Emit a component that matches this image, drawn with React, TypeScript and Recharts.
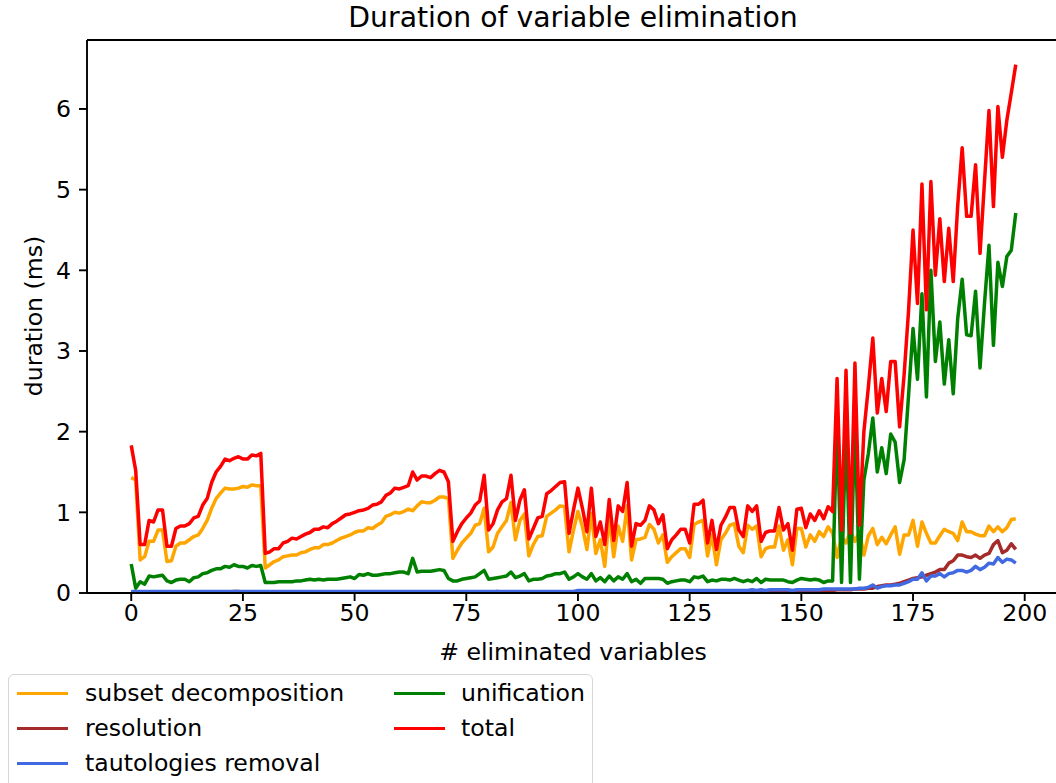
import { LineChart, Line, XAxis, YAxis, ReferenceLine } from "recharts"

// durations in ms, one entry per number of eliminated variables (0..198)
const subsetDecomposition = [
  1.43, 1.40, 0.41, 0.45, 0.64, 0.64, 0.78, 0.78, 0.39, 0.40,
  0.58, 0.62, 0.62, 0.66, 0.70, 0.72, 0.80, 0.90, 1.05, 1.17,
  1.24, 1.30, 1.29, 1.29, 1.30, 1.32, 1.31, 1.34, 1.33, 1.33,
  0.31, 0.35, 0.39, 0.41, 0.45, 0.46, 0.47, 0.47, 0.50, 0.51,
  0.54, 0.56, 0.56, 0.60, 0.60, 0.62, 0.65, 0.68, 0.70, 0.72,
  0.75, 0.77, 0.77, 0.81, 0.80, 0.84, 0.87, 0.95, 0.97, 1.00,
  0.99, 1.01, 1.04, 1.02, 1.08, 1.13, 1.12, 1.12, 1.15, 1.19,
  1.19, 1.17, 0.43, 0.53, 0.62, 0.68, 0.74, 0.84, 0.86, 1.05,
  0.51, 0.57, 0.74, 0.82, 0.90, 1.12, 0.66, 0.90, 0.98, 0.46,
  0.60, 0.70, 0.71, 0.95, 0.99, 1.03, 1.08, 1.07, 0.51, 0.78,
  1.01, 0.82, 0.54, 0.99, 0.49, 0.66, 0.33, 0.95, 0.45, 0.83,
  0.64, 1.08, 0.41, 0.66, 0.67, 0.69, 0.85, 0.79, 0.62, 0.72,
  0.38, 0.45, 0.50, 0.55, 0.55, 0.44, 0.85, 0.88, 0.90, 0.46,
  0.72, 0.35, 0.66, 0.74, 0.84, 0.86, 0.58, 0.50, 0.84, 0.79,
  0.83, 0.45, 0.55, 0.57, 0.57, 0.83, 0.53, 0.66, 0.35, 0.80,
  0.80, 0.57, 0.72, 0.64, 0.76, 0.70, 0.82, 0.74, 0.44, 0.70,
  0.62, 0.77, 0.64, 0.76, 0.47, 0.71, 0.80, 0.60, 0.69, 0.61,
  0.72, 0.82, 0.48, 0.72, 0.72, 0.90, 0.58, 0.88, 0.74, 0.62,
  0.62, 0.71, 0.79, 0.76, 0.74, 0.65, 0.88, 0.76, 0.76, 0.73,
  0.71, 0.71, 0.83, 0.76, 0.82, 0.76, 0.81, 0.91, 0.92,
]

const resolution = [
  0.01, 0.01, 0.01, 0.01, 0.01, 0.01, 0.01, 0.01, 0.01, 0.01,
  0.01, 0.01, 0.01, 0.01, 0.01, 0.01, 0.01, 0.01, 0.01, 0.01,
  0.01, 0.01, 0.01, 0.02, 0.02, 0.01, 0.01, 0.01, 0.01, 0.01,
  0.01, 0.01, 0.01, 0.01, 0.01, 0.01, 0.01, 0.01, 0.01, 0.01,
  0.01, 0.01, 0.01, 0.01, 0.01, 0.01, 0.01, 0.01, 0.01, 0.01,
  0.01, 0.01, 0.01, 0.01, 0.01, 0.01, 0.01, 0.01, 0.01, 0.01,
  0.01, 0.01, 0.01, 0.01, 0.01, 0.01, 0.01, 0.01, 0.01, 0.01,
  0.01, 0.01, 0.01, 0.01, 0.01, 0.01, 0.01, 0.01, 0.01, 0.01,
  0.01, 0.01, 0.02, 0.01, 0.01, 0.01, 0.01, 0.01, 0.01, 0.01,
  0.01, 0.01, 0.01, 0.01, 0.01, 0.01, 0.01, 0.01, 0.01, 0.01,
  0.01, 0.01, 0.01, 0.01, 0.01, 0.01, 0.01, 0.01, 0.01, 0.01,
  0.01, 0.01, 0.01, 0.01, 0.01, 0.01, 0.01, 0.01, 0.01, 0.01,
  0.01, 0.01, 0.01, 0.01, 0.01, 0.01, 0.01, 0.02, 0.01, 0.01,
  0.01, 0.01, 0.01, 0.01, 0.02, 0.02, 0.02, 0.02, 0.02, 0.02,
  0.02, 0.02, 0.02, 0.02, 0.02, 0.02, 0.02, 0.02, 0.02, 0.02,
  0.02, 0.02, 0.02, 0.03, 0.03, 0.03, 0.03, 0.03, 0.04, 0.04,
  0.04, 0.04, 0.05, 0.05, 0.05, 0.06, 0.06, 0.08, 0.09, 0.10,
  0.10, 0.11, 0.12, 0.14, 0.16, 0.18, 0.19, 0.20, 0.22, 0.24,
  0.26, 0.29, 0.29, 0.37, 0.40, 0.47, 0.47, 0.45, 0.44, 0.47,
  0.43, 0.47, 0.49, 0.60, 0.65, 0.50, 0.53, 0.61, 0.54,
]

const tautologiesRemoval = [
  0.02, 0.02, 0.02, 0.02, 0.02, 0.02, 0.02, 0.02, 0.02, 0.02,
  0.02, 0.02, 0.02, 0.02, 0.02, 0.02, 0.02, 0.02, 0.02, 0.02,
  0.02, 0.02, 0.02, 0.02, 0.02, 0.02, 0.02, 0.02, 0.02, 0.02,
  0.02, 0.02, 0.02, 0.02, 0.02, 0.02, 0.02, 0.02, 0.02, 0.02,
  0.02, 0.02, 0.02, 0.02, 0.02, 0.02, 0.02, 0.02, 0.02, 0.02,
  0.02, 0.02, 0.02, 0.02, 0.02, 0.02, 0.02, 0.02, 0.02, 0.02,
  0.02, 0.02, 0.02, 0.02, 0.02, 0.02, 0.02, 0.02, 0.02, 0.02,
  0.02, 0.02, 0.02, 0.02, 0.02, 0.02, 0.02, 0.02, 0.02, 0.02,
  0.02, 0.02, 0.02, 0.02, 0.02, 0.02, 0.02, 0.02, 0.02, 0.02,
  0.02, 0.02, 0.02, 0.02, 0.02, 0.02, 0.02, 0.02, 0.02, 0.02,
  0.03, 0.03, 0.03, 0.03, 0.03, 0.03, 0.03, 0.03, 0.03, 0.03,
  0.03, 0.03, 0.03, 0.03, 0.03, 0.03, 0.03, 0.03, 0.03, 0.03,
  0.03, 0.03, 0.03, 0.03, 0.03, 0.03, 0.03, 0.03, 0.03, 0.03,
  0.03, 0.03, 0.03, 0.03, 0.03, 0.03, 0.03, 0.03, 0.03, 0.04,
  0.03, 0.04, 0.03, 0.04, 0.04, 0.04, 0.04, 0.04, 0.03, 0.04,
  0.04, 0.04, 0.04, 0.04, 0.04, 0.05, 0.05, 0.05, 0.05, 0.05,
  0.05, 0.05, 0.05, 0.06, 0.06, 0.07, 0.10, 0.06, 0.08, 0.09,
  0.09, 0.10, 0.10, 0.12, 0.14, 0.17, 0.17, 0.25, 0.15, 0.21,
  0.21, 0.24, 0.20, 0.24, 0.25, 0.28, 0.28, 0.26, 0.28, 0.33,
  0.29, 0.32, 0.37, 0.36, 0.44, 0.38, 0.42, 0.41, 0.37,
]

const unification = [
  0.36, 0.06, 0.14, 0.11, 0.21, 0.20, 0.21, 0.22, 0.15, 0.13,
  0.16, 0.17, 0.17, 0.14, 0.19, 0.20, 0.24, 0.25, 0.28, 0.30,
  0.30, 0.33, 0.32, 0.35, 0.33, 0.33, 0.31, 0.34, 0.33, 0.34,
  0.13, 0.13, 0.13, 0.14, 0.14, 0.14, 0.14, 0.15, 0.15, 0.16,
  0.17, 0.16, 0.17, 0.16, 0.17, 0.17, 0.17, 0.18, 0.19, 0.20,
  0.18, 0.23, 0.22, 0.24, 0.22, 0.22, 0.23, 0.24, 0.24, 0.25,
  0.26, 0.26, 0.24, 0.43, 0.26, 0.27, 0.27, 0.27, 0.28, 0.29,
  0.28, 0.18, 0.15, 0.15, 0.17, 0.18, 0.19, 0.20, 0.24, 0.28,
  0.17, 0.18, 0.19, 0.20, 0.21, 0.26, 0.19, 0.21, 0.24, 0.15,
  0.17, 0.17, 0.18, 0.21, 0.22, 0.24, 0.24, 0.26, 0.17, 0.20,
  0.24, 0.20, 0.17, 0.24, 0.15, 0.19, 0.14, 0.21, 0.15, 0.20,
  0.17, 0.24, 0.14, 0.17, 0.12, 0.18, 0.18, 0.18, 0.18, 0.17,
  0.12, 0.14, 0.15, 0.16, 0.16, 0.14, 0.20, 0.19, 0.21, 0.14,
  0.16, 0.15, 0.17, 0.17, 0.16, 0.18, 0.16, 0.14, 0.16, 0.14,
  0.18, 0.13, 0.17, 0.16, 0.16, 0.16, 0.16, 0.14, 0.13, 0.16,
  0.18, 0.17, 0.16, 0.17, 0.16, 0.13, 0.15, 0.15, 2.13, 0.13,
  2.06, 0.13, 2.13, 0.17, 1.40, 1.73, 2.17, 1.50, 1.80, 1.48,
  1.97, 1.87, 1.37, 1.65, 2.45, 3.28, 2.65, 3.71, 2.43, 4.00,
  2.87, 3.36, 2.59, 3.14, 2.47, 3.40, 3.89, 3.20, 3.19, 3.74,
  2.79, 3.59, 4.31, 3.07, 4.10, 3.80, 4.17, 4.25, 4.71,
]

const total = [
  1.83, 1.52, 0.60, 0.60, 0.90, 0.88, 1.03, 1.03, 0.58, 0.58,
  0.80, 0.83, 0.83, 0.86, 0.93, 0.95, 1.09, 1.17, 1.37, 1.50,
  1.57, 1.66, 1.64, 1.67, 1.69, 1.66, 1.66, 1.71, 1.70, 1.73,
  0.49, 0.51, 0.55, 0.55, 0.62, 0.64, 0.68, 0.67, 0.70, 0.73,
  0.75, 0.79, 0.79, 0.82, 0.81, 0.86, 0.89, 0.93, 0.97, 0.98,
  1.00, 1.02, 1.03, 1.05, 1.09, 1.10, 1.13, 1.21, 1.24, 1.30,
  1.29, 1.31, 1.33, 1.50, 1.40, 1.45, 1.45, 1.43, 1.48, 1.52,
  1.50, 1.38, 0.64, 0.76, 0.86, 0.93, 0.99, 1.09, 1.14, 1.46,
  0.78, 0.86, 1.03, 1.13, 1.17, 1.46, 0.90, 1.15, 1.28, 0.67,
  0.80, 0.93, 0.95, 1.23, 1.27, 1.32, 1.37, 1.38, 0.74, 1.03,
  1.30, 1.05, 0.76, 1.30, 0.70, 0.88, 0.60, 1.16, 0.65, 1.08,
  1.01, 1.37, 0.58, 0.86, 0.84, 0.90, 1.08, 1.03, 0.86, 0.97,
  0.55, 0.66, 0.72, 0.79, 0.79, 0.62, 1.10, 1.10, 1.15, 0.62,
  0.90, 0.54, 0.84, 0.94, 1.06, 1.06, 0.78, 0.70, 1.08, 1.01,
  1.08, 0.64, 0.75, 0.77, 0.77, 1.06, 0.78, 0.86, 0.53, 1.04,
  1.05, 0.81, 0.98, 0.90, 1.02, 0.92, 1.07, 1.01, 2.66, 0.78,
  2.76, 0.74, 2.85, 0.84, 2.00, 2.55, 3.16, 2.23, 2.66, 2.25,
  2.87, 2.87, 2.06, 2.70, 3.50, 4.50, 3.59, 5.07, 3.51, 5.10,
  3.94, 4.64, 3.86, 4.52, 3.86, 4.80, 5.52, 4.67, 4.67, 5.31,
  4.21, 5.10, 5.98, 4.79, 6.03, 5.40, 5.86, 6.20, 6.55,
]

// x positions = number of eliminated variables
const eliminated = total.map((_, i) => i)

const xTicks = [0, 25, 50, 75, 100, 125, 150, 175, 200]
const yTicks = [0, 1, 2, 3, 4, 5, 6]

// matplotlib style auto limits (5% margin on x, 0 at bottom on y)
const X_MIN = -9.9
const X_MAX = 207.9
const Y_MAX = 6.855

const SERIES = [
  { key: "subset", name: "subset decomposition", color: "#ffa500", values: subsetDecomposition },
  { key: "resolution", name: "resolution", color: "#a52a2a", values: resolution },
  { key: "tautologies", name: "tautologies removal", color: "#4169e1", values: tautologiesRemoval },
  { key: "unification", name: "unification", color: "#008000", values: unification },
  { key: "total", name: "total", color: "#ff0000", values: total },
]

const FONT = "'DejaVu Sans', sans-serif"
const FS = 23.6

const data = eliminated.map((x, i) => {
  const row: Record<string, number> = { x }
  SERIES.forEach((s) => {
    row[s.key] = s.values[i]
  })
  return row
})

// legend is laid out in two columns like the original
const legendItems = [
  { s: SERIES[0], col: 0, row: 0 },
  { s: SERIES[1], col: 0, row: 1 },
  { s: SERIES[2], col: 0, row: 2 },
  { s: SERIES[3], col: 1, row: 0 },
  { s: SERIES[4], col: 1, row: 1 },
]

const tickStyle = { fontFamily: FONT, fontSize: FS, fill: "#000" }
const spine = { stroke: "#000", strokeWidth: 1.9 }

export default function App() {
  return (
    <div
      style={{
        position: "absolute",
        left: 0,
        top: 0,
        width: 1056,
        height: 783,
        overflow: "hidden",
        fontFamily: FONT,
        color: "#000",
      }}
    >
      <LineChart
        width={1068}
        height={783}
        data={data}
        margin={{ top: 40, right: 8, bottom: 130, left: 0 }}
      >
        <XAxis
          dataKey="x"
          type="number"
          domain={[X_MIN, X_MAX]}
          ticks={xTicks}
          allowDataOverflow
          height={60}
          tickSize={8}
          tickMargin={3}
          tick={tickStyle}
          axisLine={spine}
          tickLine={spine}
        />
        <YAxis
          type="number"
          domain={[0, Y_MAX]}
          ticks={yTicks}
          allowDataOverflow
          width={87}
          tickSize={8}
          tickMargin={8}
          tick={tickStyle}
          axisLine={spine}
          tickLine={spine}
        />
        <ReferenceLine y={Y_MAX} {...spine} />
        <ReferenceLine x={X_MAX} {...spine} />
        {SERIES.map((s) => (
          <Line
            key={s.key}
            dataKey={s.key}
            name={s.name}
            type="linear"
            stroke={s.color}
            strokeWidth={3.5}
            strokeLinejoin="round"
            dot={false}
            activeDot={false}
            isAnimationActive={false}
          />
        ))}
      </LineChart>

      {/* title */}
      <div
        style={{
          position: "absolute",
          left: 573,
          top: 17.5,
          transform: "translate(-50%, -50%)",
          fontSize: 28.3,
          lineHeight: "30px",
          whiteSpace: "nowrap",
        }}
      >
        Duration of variable elimination
      </div>

      {/* axis labels */}
      <div
        style={{
          position: "absolute",
          left: 573,
          top: 652.5,
          transform: "translate(-50%, -50%)",
          fontSize: FS,
          lineHeight: `${FS}px`,
          whiteSpace: "nowrap",
        }}
      >
        # eliminated variables
      </div>
      <div
        style={{
          position: "absolute",
          left: 34.5,
          top: 316,
          transform: "translate(-50%, -50%) rotate(-90deg)",
          fontSize: FS,
          lineHeight: `${FS}px`,
          whiteSpace: "nowrap",
        }}
      >
        duration (ms)
      </div>

      {/* legend */}
      <div
        style={{
          position: "absolute",
          left: 8,
          top: 674,
          width: 585,
          height: 130,
          border: "1.8px solid #d6d6d6",
          borderRadius: 6,
          background: "#fff",
          boxSizing: "border-box",
        }}
      />
      {legendItems.map(({ s, col, row }) => {
        const cy = 693.5 + row * 35
        const lineLeft = col === 0 ? 16.5 : 394
        const textLeft = col === 0 ? 85 : 461
        return (
          <div key={s.key}>
            <div
              style={{
                position: "absolute",
                left: lineLeft,
                top: cy - 1.75,
                width: 51,
                height: 3.5,
                background: s.color,
              }}
            />
            <div
              style={{
                position: "absolute",
                left: textLeft,
                top: cy,
                transform: "translateY(-50%)",
                fontSize: FS,
                lineHeight: `${FS}px`,
                whiteSpace: "nowrap",
              }}
            >
              {s.name}
            </div>
          </div>
        )
      })}
    </div>
  )
}
